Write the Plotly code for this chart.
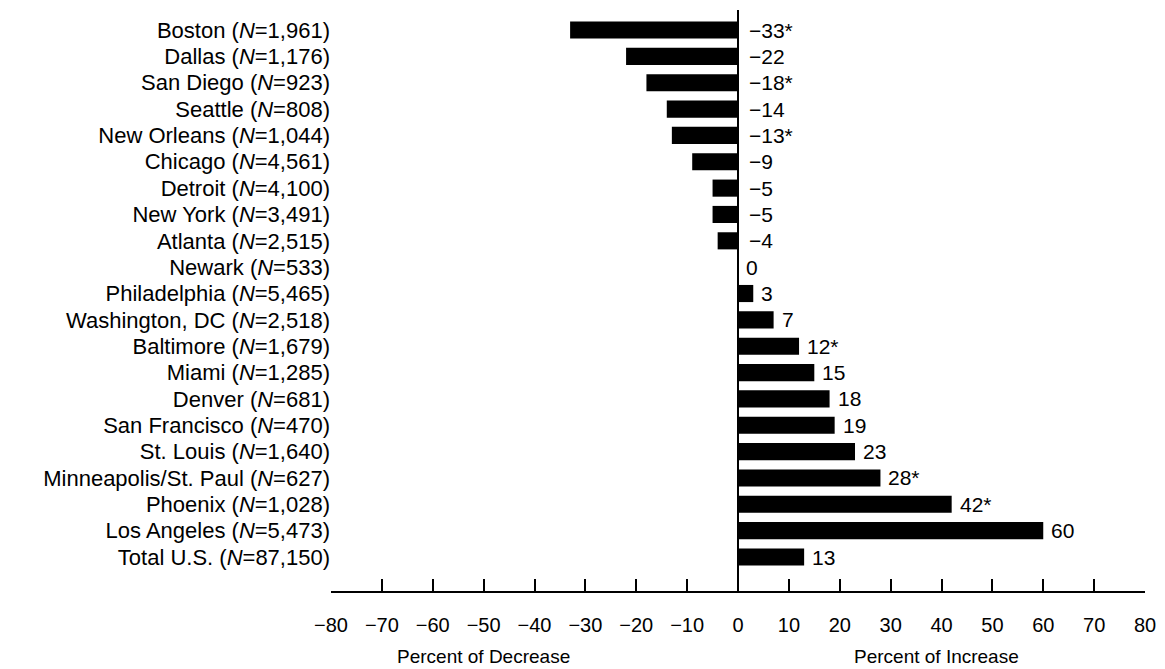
import plotly.graph_objects as go

cities = ["Boston", "Dallas", "San Diego", "Seattle", "New Orleans", "Chicago",
          "Detroit", "New York", "Atlanta", "Newark", "Philadelphia",
          "Washington, DC", "Baltimore", "Miami", "Denver", "San Francisco",
          "St. Louis", "Minneapolis/St. Paul", "Phoenix", "Los Angeles", "Total U.S."]
sample_n = ["1,961", "1,176", "923", "808", "1,044", "4,561", "4,100", "3,491",
            "2,515", "533", "5,465", "2,518", "1,679", "1,285", "681", "470",
            "1,640", "627", "1,028", "5,473", "87,150"]
pct_change = [-33, -22, -18, -14, -13, -9, -5, -5, -4, 0, 3, 7, 12, 15, 18, 19,
              23, 28, 42, 60, 13]
significant = [True, False, True, False, True, False, False, False, False, False,
               False, False, True, False, False, False, False, True, True, False, False]
x_ticks = list(range(-80, 81, 10))

FONT = "Liberation Sans, Arial, sans-serif"
idx = list(range(len(cities)))
labels = [f"{c} (<i>N</i>={n})" for c, n in zip(cities, sample_n)]

fig = go.Figure()
fig.add_trace(go.Bar(
    x=pct_change, y=idx, orientation="h", width=0.65,
    marker=dict(color="black", line=dict(width=0)),
    hoverinfo="skip",
))

for i, (v, s) in enumerate(zip(pct_change, significant)):
    txt = (f"\u2212{abs(v)}" if v < 0 else f"{v}") + ("*" if s else "")
    fig.add_annotation(x=max(v, 0), y=i, text=txt, showarrow=False,
                       xanchor="left", yanchor="middle",
                       xshift=9 if v < 0 else 6,
                       font=dict(family=FONT, size=21, color="black"))

fig.add_annotation(x=-50, y=-0.112, xref="x", yref="paper", text="Percent of Decrease",
                   showarrow=False, xanchor="center", yanchor="middle",
                   font=dict(family=FONT, size=19, color="black"))
fig.add_annotation(x=39, y=-0.112, xref="x", yref="paper", text="Percent of Increase",
                   showarrow=False, xanchor="center", yanchor="middle",
                   font=dict(family=FONT, size=19, color="black"))

fig.update_layout(
    width=1157, height=661,
    margin=dict(l=323, r=20, t=2, b=78),
    paper_bgcolor="white", plot_bgcolor="white",
    showlegend=False,
    font=dict(family=FONT, size=20, color="black"),
    xaxis=dict(range=[-80, 80], tickvals=x_ticks, showgrid=False,
               showline=True, linecolor="black", linewidth=2,
               ticks="inside", ticklen=12, tickwidth=2, tickcolor="black",
               zeroline=True, zerolinecolor="black", zerolinewidth=2,
               tickfont=dict(family=FONT, size=20, color="black"),
               ticklabelstandoff=15),
    yaxis=dict(range=[21.29, -0.76], tickvals=idx, ticktext=labels,
               showgrid=False, showline=False, zeroline=False, ticks="",
               tickfont=dict(family=FONT, size=22, color="black")),
)

fig.write_html("out.html")
